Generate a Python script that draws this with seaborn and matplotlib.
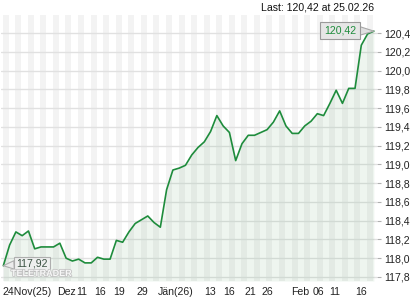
import matplotlib
matplotlib.use("Agg")
import matplotlib.pyplot as plt
import matplotlib.patheffects as pe
import seaborn as sns
import numpy as np
import pandas as pd

# ---- data ----
prices = [117.92, 118.14, 118.28, 118.24, 118.29, 118.10, 118.12, 118.12, 118.12, 118.16,
          118.00, 117.97, 117.99, 117.95, 117.95, 118.01, 117.99, 117.99, 118.19, 118.17,
          118.28, 118.37, 118.41, 118.45, 118.38, 118.33, 118.73, 118.94, 118.96, 118.99,
          119.10, 119.18, 119.24, 119.35, 119.52, 119.41, 119.34, 119.04, 119.22, 119.31,
          119.31, 119.34, 119.37, 119.45, 119.57, 119.41, 119.33, 119.33, 119.41, 119.46,
          119.54, 119.52, 119.65, 119.79, 119.65, 119.81, 119.81, 120.27, 120.39, 120.42]
x_labels = ["24Nov(25)", "Dez", "11", "16", "19", "29", "Jän(26)", "13", "16", "21", "26",
            "Feb", "06", "11", "16"]
x_label_pos = [3.85, 10.1, 12.5, 15.4, 18.4, 22.1, 27.5, 32.9, 35.9, 39.3, 42.0,
               47.2, 50.1, 52.7, 56.9]
y_ticks = [117.8, 118.0, 118.2, 118.4, 118.6, 118.8, 119.0, 119.2, 119.4, 119.6,
           119.8, 120.0, 120.2, 120.4]
last_text = "Last: 120,42 at 25.02.26"
watermark = "TELETRADER"

df = pd.DataFrame({"idx": np.arange(len(prices)), "price": prices})

sns.set_style("white")
plt.rcParams["font.family"] = ["Liberation Sans", "DejaVu Sans"]

fig = plt.figure(figsize=(4.2, 3.0), dpi=100)
ax = fig.add_axes([1 / 420, 19 / 300, 376 / 420, 266 / 300])

xmin, xmax = -0.37, 59.5
ymin, ymax = 117.757, 120.592
ax.set_xlim(xmin, xmax)
ax.set_ylim(ymin, ymax)

# vertical stripes
for k in range(0, 31):
    ax.axvspan(2 * k - 0.1, 2 * k + 0.85, color="#f3f3f3", lw=0, zorder=0)

# horizontal grid
for t in y_ticks:
    ax.axhline(t, color="#e1e1e1", lw=1.0, zorder=1)

# area and line
ax.fill_between(df["idx"], df["price"], ymin, color="#2e8b3e", alpha=0.08, lw=0, zorder=2)
sns.lineplot(data=df, x="idx", y="price", ax=ax, color="#1e8c3c", lw=1.2, zorder=3)

# axes cosmetics
for s in ax.spines.values():
    s.set_visible(False)
ax.set_xlabel("")
ax.set_ylabel("")
ax.yaxis.tick_right()
ax.set_yticks(y_ticks)
ax.set_yticklabels([f"{t:.1f}".replace(".", ",") for t in y_ticks])
ax.tick_params(axis="y", which="both", right=True, length=3, width=0.8, color="#b0b0b0",
               pad=2, labelsize=7.6, labelcolor="#222222")
ax.set_xticks(x_label_pos)
ax.set_xticklabels(x_labels)
ax.tick_params(axis="x", length=0, pad=4, labelsize=7.6, labelcolor="#222222")

# callouts
last_i, last_v = df["idx"].iloc[-1], df["price"].iloc[-1]
first_i, first_v = df["idx"].iloc[0], df["price"].iloc[0]
ax.annotate(f"{last_v:.2f}".replace(".", ","), xy=(last_i, last_v),
            xytext=(-34, 0.5), textcoords="offset pixels", ha="center", va="center",
            fontsize=7.6, color="#1e8c3c",
            bbox=dict(boxstyle="square,pad=0.35", fc="#e6e6e6", ec="#9a9a9a", lw=0.8),
            arrowprops=dict(arrowstyle="wedge,tail_width=0.8,shrink_factor=0.5",
                            fc="#e0e0e0", ec="#a8a8a8", lw=0.8, shrinkA=0, shrinkB=0),
            zorder=6)
ax.annotate(f"{first_v:.2f}".replace(".", ","), xy=(first_i, first_v),
            xytext=(29, 2), textcoords="offset pixels", ha="center", va="center",
            fontsize=7.6, color="#3b5243",
            bbox=dict(boxstyle="square,pad=0.2", fc="#f0f0f0", ec="#a8a8a8", lw=0.8, alpha=0.9),
            arrowprops=dict(arrowstyle="wedge,tail_width=0.8,shrink_factor=0.5",
                            fc="#ececec", ec="#a8a8a8", lw=0.8, alpha=0.9, shrinkA=0, shrinkB=0),
            zorder=6)

# watermark
ax.text(10 / 376, 7.5 / 266, watermark, transform=ax.transAxes, fontsize=6.5,
        fontweight="bold", color="#f7f7f7", ha="left", va="center", zorder=7,
        path_effects=[pe.withStroke(linewidth=1.2, foreground="#c4c4c4")])

fig.text(374 / 420, 1 - 7.5 / 300, last_text, ha="right", va="center", fontsize=7.6,
         color="#111111")

fig.savefig("out.png", dpi=100, facecolor="white")
